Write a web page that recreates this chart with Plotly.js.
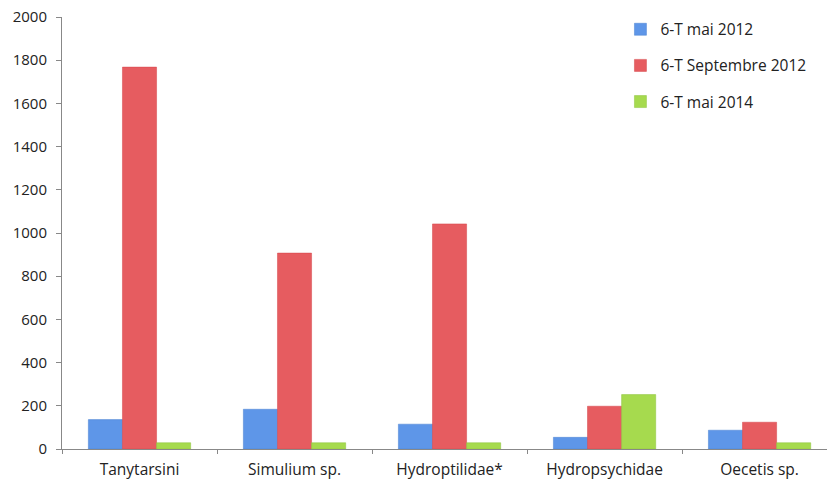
<!DOCTYPE html>
<html><head><meta charset="utf-8">
<script src="https://cdn.plot.ly/plotly-3.0.1.min.js"></script>
<style>html,body{margin:0;padding:0;background:#fff}#chart{width:827px;height:484px}</style>
</head><body><div id="chart"></div>
<script>
const categories = ["Tanytarsini", "Simulium sp.", "Hydroptilidae*", "Hydropsychidae", "Oecetis sp."];
const seriesNames = ["6-T mai 2012", "6-T Septembre 2012", "6-T mai 2014"];
const mai2012 = [136, 184, 115, 54, 87];
const sept2012 = [1768, 907, 1042, 198, 124];
const mai2014 = [29, 29, 29, 252, 29];
const yTicks = [0, 200, 400, 600, 800, 1000, 1200, 1400, 1600, 1800, 2000];
const colors = ["#5e96e8", "#e65c60", "#a6da4e"];
const lineColors = ["#4a80d0", "#d44448", "#8cc23a"];

const data = [mai2012, sept2012, mai2014].map((v, i) => ({
  type: "bar", x: categories, y: v, name: seriesNames[i], legendgroup: "g" + i,
  marker: {color: colors[i], line: {color: lineColors[i], width: 0.5}}
}));

const layout = {
  width: 827, height: 484,
  margin: {l: 62, r: 0, t: 17, b: 35},
  paper_bgcolor: "#fff", plot_bgcolor: "#fff",
  font: {family: "Open Sans, Lato, sans-serif", size: 15, color: "#222"},
  barmode: "group", bargap: 0.34, bargroupgap: 0,
  showlegend: true,
  legend: {x: 0.73, y: 1.01, xanchor: "left", yanchor: "top", bgcolor: "rgba(0,0,0,0)",
    font: {size: 15.5, color: "#222"}, tracegroupgap: 13, itemwidth: 30},
  xaxis: {type: "category", range: [-0.5, 4.435], showline: true, linecolor: "#888", linewidth: 1,
    ticks: "outside", tickson: "boundaries", ticklen: 4, tickcolor: "#888",
    ticklabelstandoff: 6,
    showgrid: false, zeroline: false, tickfont: {size: 15.5}},
  yaxis: {range: [0, 2000], tickvals: yTicks, ticktext: yTicks.map(String), showline: true,
    linecolor: "#888", linewidth: 1, ticks: "outside", ticklen: 5, tickcolor: "#888",
    ticklabelstandoff: 6,
    showgrid: false, zeroline: false, tickfont: {size: 15}}
};
Plotly.newPlot("chart", data, layout, {displayModeBar: false, staticPlot: true});
</script></body></html>
